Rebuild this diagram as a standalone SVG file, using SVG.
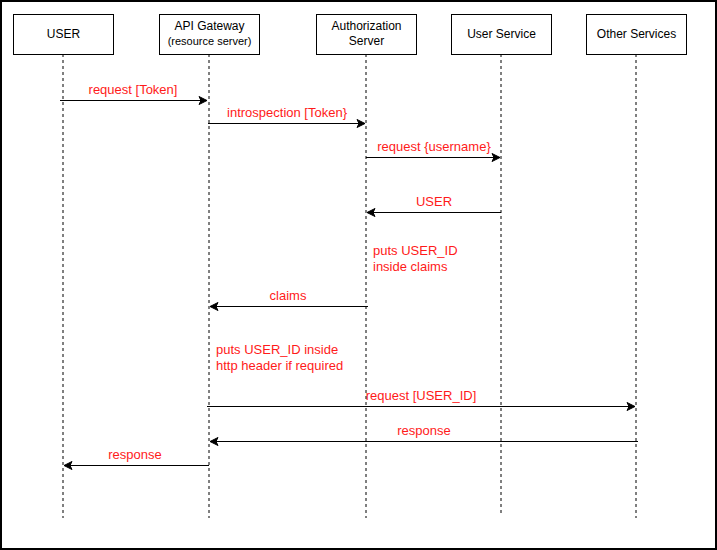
<svg xmlns="http://www.w3.org/2000/svg" width="717" height="550" viewBox="0 0 717 550">
<style>
.box{fill:#fff;stroke:#000;stroke-width:1}
.life{stroke:#000;stroke-width:1;stroke-dasharray:3 3;fill:none}
.msg{stroke:#000;stroke-width:1;fill:none}
.t{font-family:"Liberation Sans",Arial,sans-serif;font-size:12px;fill:#000;text-anchor:middle}
.r{font-family:"Liberation Sans",Arial,sans-serif;font-size:13px;fill:#ff1a1a}
.c{text-anchor:middle}
</style>
<defs>
<marker id="ah" markerWidth="10" markerHeight="10" viewBox="0 0 10 10" refX="9" refY="5" orient="auto" markerUnits="userSpaceOnUse">
<path d="M1,1 L9,5 L1,9 L3,5 Z" fill="#000" stroke="#000" stroke-width="1"/>
</marker>
</defs>
<rect x="1" y="1" width="715" height="548" fill="#fff" stroke="#000" stroke-width="2"/>
<g id="lifelines">
<line class="life" x1="63" y1="54" x2="63" y2="518"/>
<line class="life" x1="209" y1="54" x2="209" y2="518"/>
<line class="life" x1="366" y1="54" x2="366" y2="518"/>
<line class="life" x1="501" y1="54" x2="501" y2="513"/>
<line class="life" x1="636" y1="54" x2="636" y2="518"/>
</g>
<g id="user"><rect class="box" x="13.5" y="14.5" width="100" height="40"/><text class="t" x="63.5" y="37.5">USER</text></g>
<g id="gateway"><rect class="box" x="159.5" y="14.5" width="100" height="40"/><text class="t" x="209.5" y="29.5">API Gateway</text><text class="t" x="209.5" y="45" style="font-size:11px">(resource server)</text></g>
<g id="auth"><rect class="box" x="316.5" y="14.5" width="100" height="40"/><text class="t" x="366.5" y="29.5">Authorization</text><text class="t" x="366.5" y="44.5">Server</text></g>
<g id="userservice"><rect class="box" x="451.5" y="14.5" width="100" height="40"/><text class="t" x="501.5" y="37.5">User Service</text></g>
<g id="other"><rect class="box" x="586.5" y="14.5" width="100" height="40"/><text class="t" x="636.5" y="37.5">Other Services</text></g>
<g id="connectors">
<line class="msg" x1="60" y1="100.5" x2="207" y2="100.5" marker-end="url(#ah)"/>
<line class="msg" x1="208" y1="123.5" x2="365" y2="123.5" marker-end="url(#ah)"/>
<line class="msg" x1="366" y1="157.5" x2="500" y2="157.5" marker-end="url(#ah)"/>
<line class="msg" x1="501" y1="212.5" x2="367" y2="212.5" marker-end="url(#ah)"/>
<line class="msg" x1="368" y1="306.5" x2="210" y2="306.5" marker-end="url(#ah)"/>
<line class="msg" x1="207" y1="406.5" x2="635" y2="406.5" marker-end="url(#ah)"/>
<line class="msg" x1="638" y1="441.5" x2="210" y2="441.5" marker-end="url(#ah)"/>
<line class="msg" x1="209" y1="465.5" x2="64" y2="465.5" marker-end="url(#ah)"/>
</g>
<g id="labels">
<text class="r c" x="133" y="94">request [Token]</text>
<text class="r c" x="287" y="117">introspection [Token}</text>
<text class="r c" x="434" y="151">request {username}</text>
<text class="r c" x="434" y="205.5">USER</text>
<text class="r" x="373" y="254.5">puts USER_ID</text>
<text class="r" x="373" y="271">inside claims</text>
<text class="r c" x="288" y="300">claims</text>
<text class="r" x="216" y="354">puts USER_ID inside</text>
<text class="r" x="216" y="370">http header if required</text>
<text class="r c" x="421" y="400">request [USER_ID]</text>
<text class="r c" x="424" y="435">response</text>
<text class="r c" x="135" y="459">response</text>
</g>
</svg>
